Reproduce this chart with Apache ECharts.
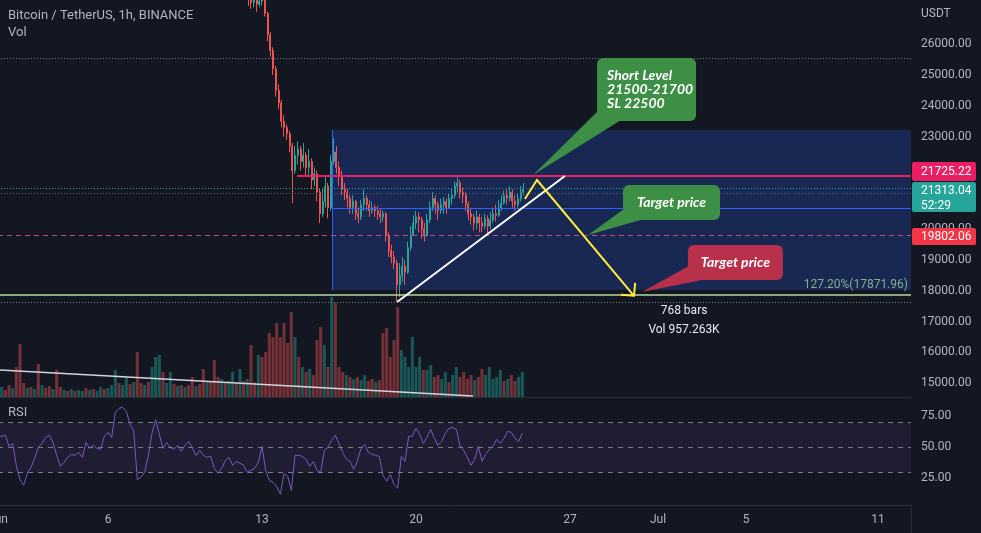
<!DOCTYPE html>
<html><head><meta charset="utf-8">
<script src="https://cdn.jsdelivr.net/npm/echarts@6/dist/echarts.min.js"></script>
<style>html,body{margin:0;padding:0;background:#131722;}#c{width:981px;height:533px;}</style>
</head><body><div id="c"></div>
<script>
// ---------- axis ticks ----------
const dateTicks = [0, 5, 12, 19, 26, 30, 34, 40];            // days since Jun 1
const dateLabels = ['Jun', '6', '13', '20', '27', 'Jul', '5', '11'];
const priceTicks = [15000,16000,17000,18000,19000,20000,21000,22000,23000,24000,25000,26000];
const rsiTicks = [25, 50, 75];
const rsiLevels = [70, 50, 30];

// ---------- candles (3h, from Jun 12 00:00) [open, close, low, high] ----------
const candleStartDay = 11;
const candleStepDays = 0.125;
const candles = [
 [28100,27900,27750,28200],[27900,27850,27600,28050],[27850,27650,27450,27950],[27650,27450,27250,27750],
 [27450,27350,27150,27600],[27350,27500,27200,27650],[27500,27300,27050,27600],[27300,27400,27200,27550],
 [27400,27550,27250,27700],[27550,27000,26900,27600],[27000,26300,26100,27050],[26300,25800,25600,26400],
 [25800,25200,25000,25900],[25200,24500,24300,25300],[24500,24100,23900,24700],[24100,23500,23300,24200],
 [23500,23300,23000,23700],[23300,23100,22900,23400],[23100,22700,22500,23200],[22700,21900,20850,22800],
 [21900,22400,21800,22700],[22400,22600,22100,22850],[22600,22200,21900,22700],[22200,22400,22000,22800],
 [22400,22000,21700,22500],[22000,22200,21700,22600],[22200,21600,21300,22300],[21600,21800,21400,22000],
 [21800,21200,20900,21900],[21200,20500,20200,21300],[20500,20900,20400,21300],[20900,21400,20700,21700],
 [21400,20700,20350,21500],[20700,22200,20600,22400],[22200,22500,22100,22960],[22500,22000,21800,22700],
 [22000,21700,21400,22200],[21700,21300,21100,21900],[21300,21200,20950,21500],[21200,21000,20700,21300],
 [21000,20700,20500,21100],[20700,20900,20500,21100],[20900,20500,20300,20950],[20500,20400,20200,20700],
 [20400,20800,20300,20950],[20800,21000,20600,21300],[21000,20800,20600,21100],[20800,20600,20400,20950],
 [20600,20700,20500,20900],[20700,20600,20400,20800],[20600,20500,20300,20750],[20500,20400,20200,20650],
 [20400,20500,20250,20600],[20500,19800,19600,20550],[19800,19300,19100,19900],[19300,19100,18900,19500],
 [19100,18900,18700,19300],[18900,18200,17650,19000],[18200,18500,17800,18900],[18500,18800,18300,19100],
 [18800,18600,18200,19000],[18600,19400,18550,19600],[19400,19800,19300,20100],[19800,20200,19800,20450],
 [20200,20400,20000,20600],[20400,20300,19900,20550],[20300,20000,19700,20400],[20000,19800,19600,20200],
 [19800,20300,19750,20500],[20300,20700,20200,20900],[20700,21000,20600,21200],[21000,20800,20500,21100],
 [20800,20600,20300,20900],[20600,20800,20500,21000],[20800,20900,20500,21050],[20900,20700,20500,21000],
 [20700,21000,20650,21150],[21000,21100,20800,21300],[21100,21400,21000,21550],[21400,21500,21200,21700],
 [21500,21200,21000,21600],[21200,21100,20850,21350],[21100,20800,20600,21200],[20800,20500,20300,20900],
 [20500,20400,20150,20700],[20400,20200,19950,20500],[20200,20400,20000,20600],[20400,20200,19900,20500],
 [20200,20100,19900,20400],[20100,20350,20000,20500],[20350,20100,19850,20450],[20100,20300,20000,20550],
 [20300,20500,20200,20700],[20500,20450,20250,20800],[20450,20700,20400,20950],[20700,20850,20600,21100],
 [20850,21100,20800,21250],[21100,21000,20800,21300],[21000,21200,20900,21400],[21200,20900,20700,21300],
 [20900,20800,20600,21100],[20800,21000,20700,21150],[21000,21200,20900,21400],[21200,21313.04,21100,21500]
];

// ---------- volume (4h steps from Jun 1, K units) ----------
const volStartDay = 0;
const volStepDays = 1 / 6;
const volume = [
 8,10,7,12,9,30,53,14,9,10,
 8,33,12,9,11,8,27,10,7,6,
 8,6,7,6,9,7,8,6,10,8,
 9,12,27,14,12,20,13,15,45,14,
 12,15,30,40,42,25,14,25,13,11,
 12,10,12,20,11,13,28,15,16,37,
 20,18,15,16,25,15,28,16,18,52,
 15,42,40,45,64,60,74,60,74,54,
 85,60,40,30,25,28,22,57,70,52,
 30,100,94,30,25,22,20,18,20,17,
 22,16,18,15,17,64,69,40,57,90,
 47,40,30,60,30,40,27,27,32,20,
 22,18,25,15,22,30,20,25,18,22,
 17,20,28,22,30,18,20,27,16,18,
 22,16,20,25
];
const volDir = 'DUDDUDDDUD' + 'UDUDDUDDUD' + 'UDUUDUDUUD' + 'UUUDUUDUDD' + 'UDUUUDUUDU' +
               'DUDDUDDUDD' + 'DUDUUDUDUD' + 'DUDDDDDDDD' + 'DUDUDUDDDU' + 'DUDDDUDUDU' +
               'UDDUDDDDDD' + 'UUUUUUDUUD' + 'DUUDUUDDDD' + 'UDDUUUUUDU' + 'DDUU';

// ---------- RSI (4h steps from Jun 1) ----------
const rsiStartDay = 0;
const rsiStepDays = 1 / 6;
const rsi = [
 58.1,58.9,59.7,50.8,53.2,35.5,24.0,19.5,29.0,33.9,
 41.1,50.0,53.2,58.1,59.7,54.0,43.5,34.7,37.9,41.9,
 44.4,43.5,46.0,42.0,54.0,49.2,51.6,49.2,48.4,58.9,
 62.1,58.1,78.2,81.5,82.3,79.0,68.5,63.7,24.0,26.0,
 29.8,43.5,61.3,72.5,60.5,49.2,54.0,50.0,48.4,51.6,
 46.8,51.6,54.8,49.2,43.5,47.6,43.5,41.9,42.7,33.1,
 29.0,33.1,39.5,41.9,35.5,38.7,37.1,35.5,29.8,31.5,
 33.1,37.9,50.8,31.5,23.4,21.8,18.5,12.1,29.0,26.6,
 15.3,43.5,43.5,42.7,40.3,34.7,38.7,31.5,29.8,47.6,
 50.0,55.6,59.7,53.2,46.0,40.3,38.7,32.3,38.7,49.2,
 52.4,46.0,44.4,43.5,42.7,27.4,22.6,28.2,20.0,17.0,
 42.7,38.7,58.9,58.9,65.3,60.5,53.2,58.1,64.5,57.3,
 51.6,54.8,61.3,65.3,66.1,64.5,51.6,47.6,41.9,35.5,
 40.3,50.8,38.7,44.4,48.4,50.8,56.5,53.2,57.3,62.9,
 62.1,57.3,54.8,61.3
];

// ---------- drawn levels & annotations (data coordinates: [day, price]) ----------
const markPrices = [25540, 21725.22, 21313.04, 21150, 20656, 19802.06, 17871.96, 17622];
const levelStarts = [null, 13.59, null, null, 15.18, null, null, null];
const fibLabel = '127.20%';
const boxCorners = [[15.18, 23219], [41.5, 18028]];
const trendPts = [
  [[18.14, 17640], [25.77, 21727]],
  [[0.09, 15432], [21.59, 14589]],
  [[15.18, 23219], [15.18, 18028]]
];
const arrowPts = [[23.95, 20980], [24.5, 21597], [28.91, 17840]];
const calloutTexts = ['Short Level\n21500-21700\nSL 22500', 'Target price', 'Target price'];
const calloutTips = [[24.32, 21759], [26.82, 19813], [29.27, 17963]];
const calloutBoxes = [[27.23, 25555], [28.41, 21435], [31.36, 19488]];
const measureTexts = ['768 bars', 'Vol 957.263K'];
const tagPrices = [21725.22, 21313.04, 19802.06];
const tagTexts = ['21725.22', '21313.04\n52:29', '19802.06'];

// ---------- chart ----------
const X_MIN = 0, X_MAX = 41.5;
const FONT = 'Roboto, "Noto Sans", sans-serif';
const AX = '#b2b5be';
const chart = echarts.init(document.getElementById('c'));

const candleData = candles.map((c, i) => [candleStartDay + i * candleStepDays, c[0], c[1], c[2], c[3]]);
const volData = volume.map((v, k) => ({
  value: [volStartDay + k * volStepDays, v],
  itemStyle: { color: volDir[k] === 'U' ? 'rgba(38,166,154,0.45)' : 'rgba(239,83,80,0.45)' }
}));
const rsiData = rsi.map((v, k) => [rsiStartDay + k * rsiStepDays, v]);

const levelLook = [
  { color: '#787b86', w: 1, dash: [1, 2] },
  { color: '#e91e63', w: 2, dash: null },
  { color: '#26a69a', w: 1, dash: [1, 2] },
  { color: '#5d606b', w: 1, dash: [1, 2] },
  { color: '#2962ff', w: 1, dash: null },
  { color: '#d1457e', w: 1, dash: [5, 4] },
  { color: '#b5d99c', w: 1.5, dash: null },
  { color: '#787b86', w: 1, dash: [1, 2] }
];
function crisp(y, w) { return (Math.round(w) % 2 === 1) ? Math.round(y - 0.5) + 0.5 : Math.round(y); }

function renderBox(params, api) {
  const a = api.coord(boxCorners[0]), b = api.coord(boxCorners[1]);
  return { type: 'rect', shape: { x: a[0], y: a[1], width: b[0] - a[0], height: b[1] - a[1] },
    style: { fill: 'rgba(40,80,200,0.30)' } };
}
function renderLevel(params, api) {
  const i = params.dataIndex, cs = params.coordSys, lk = levelLook[i];
  const y = crisp(api.coord([X_MIN, markPrices[i]])[1], lk.w);
  const x1 = levelStarts[i] == null ? cs.x : api.coord([levelStarts[i], markPrices[i]])[0];
  const x2 = cs.x + cs.width;
  const out = [{ type: 'line', shape: { x1: x1, y1: y, x2: x2, y2: y },
    style: { stroke: lk.color, lineWidth: lk.w, lineDash: lk.dash } }];
  if (i === 6) {
    out.push({ type: 'text', style: { text: fibLabel + '(' + markPrices[i].toFixed(2) + ')',
      x: x2 - 3, y: y - 4, textAlign: 'right', textVerticalAlign: 'bottom',
      fill: '#7fb08a', font: '12px ' + FONT } });
  }
  return { type: 'group', children: out };
}
const trendLook = [
  { color: '#ffffff', w: 2 }, { color: '#d1d4dc', w: 1.5 }, { color: '#2962ff', w: 1 }
];
function renderTrend(params, api) {
  const i = params.dataIndex;
  const pts = trendPts[i].map(p => api.coord(p));
  if (i === 2) { pts[0][0] = Math.round(pts[0][0]) + 0.5; pts[1][0] = pts[0][0]; }
  return { type: 'polyline', shape: { points: pts },
    style: { stroke: trendLook[i].color, lineWidth: trendLook[i].w, fill: null } };
}
function renderArrow(params, api) {
  const pts = arrowPts.map(p => api.coord(p));
  const t = pts[pts.length - 1], s = pts[pts.length - 2];
  const ang = Math.atan2(t[1] - s[1], t[0] - s[0]) + Math.PI;
  const L = 13;
  const a1 = [t[0] + L * Math.cos(ang + Math.PI / 4), t[1] + L * Math.sin(ang + Math.PI / 4)];
  const a2 = [t[0] + L * Math.cos(ang - Math.PI / 4), t[1] + L * Math.sin(ang - Math.PI / 4)];
  const st = { stroke: '#ffeb3b', lineWidth: 2, fill: null };
  const m1 = measureTexts[0], m2 = measureTexts[1];
  return { type: 'group', children: [
    { type: 'polyline', shape: { points: pts }, style: st },
    { type: 'polyline', shape: { points: [a1, t, a2] }, style: st },
    { type: 'text', style: { text: m1, x: t[0] + 50, y: t[1] + 15, textAlign: 'center', textVerticalAlign: 'middle', fill: '#e8eaf0', font: '12px ' + FONT } },
    { type: 'text', style: { text: m2, x: t[0] + 50, y: t[1] + 34, textAlign: 'center', textVerticalAlign: 'middle', fill: '#e8eaf0', font: '12px ' + FONT } }
  ] };
}
const calloutSize = [[99, 63], [97, 35], [95, 35]];
const calloutColor = ['#3d8f46', '#3d8f46', '#b8304a'];
const calloutBase = [[6, 20], [7, 17], [10, 15]];
function renderCallout(params, api) {
  const i = params.dataIndex;
  const tip = api.coord(calloutTips[i]);
  const b = api.coord(calloutBoxes[i]);
  const w = calloutSize[i][0], h = calloutSize[i][1];
  const bx = b[0], by = b[1];
  const col = calloutColor[i];
  const children = [
    { type: 'polygon', shape: { points: [[bx + 1, by + h - calloutBase[i][0] - 4], [bx + calloutBase[i][1] + 4, by + h - 1], tip] }, style: { fill: col } },
    { type: 'rect', shape: { x: bx, y: by, width: w, height: h, r: 6 }, style: { fill: col } }
  ];
  if (i === 0) {
    children.push({ type: 'text', style: { text: calloutTexts[i], x: bx + 10, y: by + 10, textAlign: 'left', textVerticalAlign: 'top', lineHeight: 14, fill: '#ffffff', font: 'italic bold 14px Lato, ' + FONT } });
  } else {
    children.push({ type: 'text', style: { text: calloutTexts[i], x: bx + w / 2, y: by + h / 2, textAlign: 'center', textVerticalAlign: 'middle', fill: '#ffffff', font: 'italic bold 14px Lato, ' + FONT } });
  }
  return { type: 'group', children: children };
}
const tagColor = ['#e91e63', '#26a69a', '#f23645'];
const tagBox = [[-14, 19], [-7, 30], [-7, 17]];
function renderTag(params, api) {
  const i = params.dataIndex, cs = params.coordSys;
  const y = api.coord([X_MIN, tagPrices[i]])[1];
  const x0 = cs.x + cs.width + 1;
  const top = Math.round(y + tagBox[i][0]), h = tagBox[i][1];
  const ty = i === 0 ? top + 2 : top + 1;
  return { type: 'group', children: [
    { type: 'rect', shape: { x: x0, y: top, width: 64, height: h, r: 2 }, style: { fill: tagColor[i] } },
    { type: 'text', style: { text: tagTexts[i], x: x0 + 9, y: ty, textAlign: 'left', textVerticalAlign: 'top', lineHeight: 15, fill: '#ffffff', font: '12px ' + FONT } }
  ] };
}

const xBase = { type: 'value', min: X_MIN, max: X_MAX, axisLabel: { show: false }, axisTick: { show: false }, splitLine: { show: false }, axisLine: { show: false } };
const idx = n => Array.from({ length: n }, (_, i) => [i, i]);
const gridBase = { left: -2, right: 70, outerBoundsMode: 'none', containLabel: false };

const option = {
  backgroundColor: '#131722',
  animation: false,
  grid: [
    Object.assign({}, gridBase, { top: 0, height: 397 }),
    Object.assign({}, gridBase, { top: 197, height: 200 }),
    Object.assign({}, gridBase, { top: 398, height: 107 })
  ],
  xAxis: [
    Object.assign({}, xBase, { gridIndex: 0, axisLine: { show: true, lineStyle: { color: '#2a2e39', width: 1 } } }),
    Object.assign({}, xBase, { gridIndex: 1 }),
    Object.assign({}, xBase, { gridIndex: 2, axisLine: { show: true, lineStyle: { color: '#2a2e39', width: 1 } },
      axisLabel: { show: true, customValues: dateTicks, color: AX, fontSize: 12, fontFamily: FONT, margin: 9,
        formatter: v => { const k = dateTicks.indexOf(v); return k >= 0 ? dateLabels[k] : ''; } } })
  ],
  yAxis: [
    { type: 'value', gridIndex: 0, position: 'right', min: 14556, max: 27437,
      axisLine: { show: true, lineStyle: { color: '#2a2e39' } }, axisTick: { show: false }, splitLine: { show: false },
      axisLabel: { customValues: priceTicks, formatter: v => v.toFixed(2), color: AX, fontSize: 12, fontFamily: FONT, margin: 10 } },
    { type: 'value', gridIndex: 1, min: 0, max: 200, show: false, splitLine: { show: false } },
    { type: 'value', gridIndex: 2, position: 'right', min: 3.5, max: 89.8,
      axisLine: { show: true, lineStyle: { color: '#2a2e39' } }, axisTick: { show: false }, splitLine: { show: false },
      axisLabel: { customValues: rsiTicks, formatter: v => v.toFixed(2), color: AX, fontSize: 12, fontFamily: FONT, margin: 10 } }
  ],
  series: [
    { type: 'bar', name: 'Vol', xAxisIndex: 1, yAxisIndex: 1, data: volData, barWidth: 3, z: 1, silent: true },
    { type: 'custom', name: 'box', xAxisIndex: 0, yAxisIndex: 0, z: 1, silent: true, data: [[0, 0]], renderItem: renderBox },
    { type: 'candlestick', name: 'BTCUSDT', xAxisIndex: 0, yAxisIndex: 0, data: candleData,
      encode: { x: 0, y: [1, 2, 3, 4] }, barWidth: 1.5, z: 3, silent: true,
      itemStyle: { color: '#26a69a', color0: '#ef5350', borderColor: '#26a69a', borderColor0: '#ef5350', borderWidth: 1 } },
    { type: 'custom', name: 'levels', xAxisIndex: 0, yAxisIndex: 0, z: 4, silent: true, clip: false, data: idx(markPrices.length), renderItem: renderLevel },
    { type: 'custom', name: 'trend', xAxisIndex: 0, yAxisIndex: 0, z: 5, silent: true, data: idx(trendPts.length), renderItem: renderTrend },
    { type: 'custom', name: 'arrow', xAxisIndex: 0, yAxisIndex: 0, z: 5, silent: true, clip: false, data: [[0, 0]], renderItem: renderArrow },
    { type: 'custom', name: 'callouts', xAxisIndex: 0, yAxisIndex: 0, z: 6, silent: true, clip: false, data: idx(calloutTexts.length), renderItem: renderCallout },
    { type: 'custom', name: 'tags', xAxisIndex: 0, yAxisIndex: 0, z: 10, silent: true, clip: false, data: idx(tagPrices.length), renderItem: renderTag },
    { type: 'line', name: 'RSI', xAxisIndex: 2, yAxisIndex: 2, data: rsiData, showSymbol: false, symbol: 'none', silent: true, z: 3,
      lineStyle: { color: '#7e57c2', width: 1 },
      markArea: { silent: true, itemStyle: { color: 'rgba(126,87,194,0.10)' }, data: [[{ yAxis: rsiLevels[2] }, { yAxis: rsiLevels[0] }]] },
      markLine: { silent: true, symbol: 'none', label: { show: false }, lineStyle: { color: '#787b86', type: [5, 5], width: 1 },
        data: rsiLevels.map(v => ({ yAxis: v })) } }
  ],
  graphic: [
    { type: 'text', left: 8, top: 9, z: 100, style: { text: 'Bitcoin / TetherUS, 1h, BINANCE', fill: AX, font: '13px ' + FONT } },
    { type: 'text', left: 8, top: 26, z: 100, style: { text: 'Vol', fill: AX, font: '13px ' + FONT } },
    { type: 'text', left: 921, top: 8, z: 100, style: { text: 'USDT', fill: AX, font: '12px ' + FONT } },
    { type: 'text', left: 8, top: 406, z: 100, style: { text: 'RSI', fill: AX, font: '13px ' + FONT } },
    { type: 'line', z: 100, shape: { x1: 911.5, y1: 505, x2: 911.5, y2: 533 }, style: { stroke: '#2a2e39', lineWidth: 1 } }
  ]
};
chart.setOption(option);
</script>
</body></html>
